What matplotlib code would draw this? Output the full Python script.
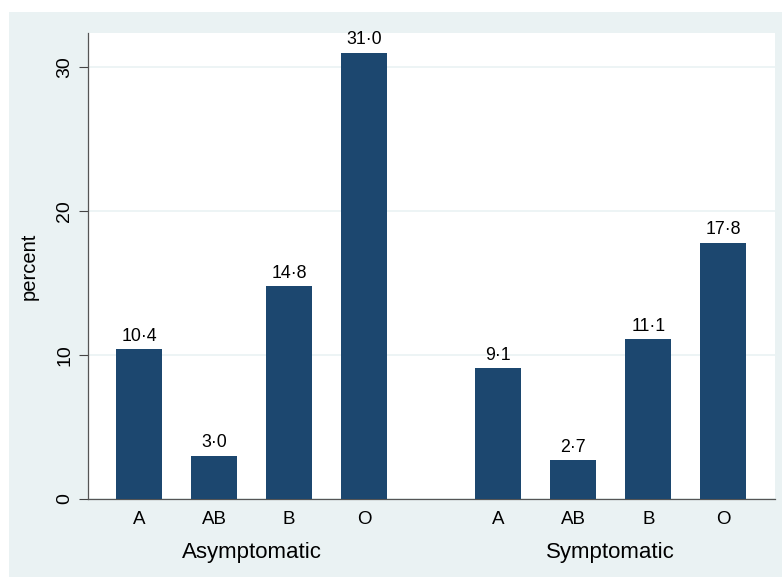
import matplotlib
matplotlib.use("Agg")
import matplotlib.pyplot as plt
from matplotlib.patches import Rectangle
import numpy as np

# Data
groups = ["Asymptomatic", "Symptomatic"]
blood_types = ["A", "AB", "B", "O"]
asymptomatic = [10.4, 3.0, 14.8, 31.0]
symptomatic = [9.1, 2.7, 11.1, 17.8]

plt.rcParams['font.family'] = ['Liberation Sans', 'DejaVu Sans']

bg = "#eaf2f3"
bar_col = "#1c476f"

fig = plt.figure(figsize=(7.82, 5.77), dpi=100)
fig.patch.set_facecolor("white")
fig.add_artist(Rectangle((9 / 782, 0), 1, (577 - 12) / 577,
                         transform=fig.transFigure, facecolor=bg,
                         edgecolor="none", zorder=-10))

ax = fig.add_axes([88 / 782, 78 / 577, 687 / 782, 466 / 577])
ax.set_facecolor("white")

gap = 4.79
pos_asym = np.arange(len(blood_types))
pos_symp = pos_asym + gap
width = 0.613

for pos, vals in [(pos_asym, asymptomatic), (pos_symp, symptomatic)]:
    bars = ax.bar(pos, vals, width=width, color=bar_col, zorder=3)
    for b, v in zip(bars, vals):
        ax.annotate(f"{v:.1f}".replace(".", "\u00b7"),
                    (b.get_x() + b.get_width() / 2, v),
                    xytext=(0, 6), textcoords="offset points",
                    ha="center", va="baseline", fontsize=12.8)

ax.set_xlim(-0.68, 8.48)
ax.set_ylim(0, 32.36)
ax.set_yticks([0, 10, 20, 30])
ax.tick_params(axis="y", length=6.5, width=0.8, color="#444444",
               labelsize=14, pad=4)
for lab in ax.get_yticklabels():
    lab.set_rotation(90)
    lab.set_va("center")
ax.set_xticks(np.concatenate([pos_asym, pos_symp]))
ax.set_xticklabels(blood_types * 2, fontsize=13.5)
ax.tick_params(axis="x", length=0, pad=9)
ax.grid(axis="y", color=bg, linewidth=1.2, zorder=0)
ax.set_ylabel("percent", fontsize=14.5, labelpad=13)

for s in ["top", "right"]:
    ax.spines[s].set_visible(False)
for s in ["left", "bottom"]:
    ax.spines[s].set_color("#555555")
    ax.spines[s].set_linewidth(0.9)

trans = ax.get_xaxis_transform()
for g, pos in zip(groups, [pos_asym, pos_symp]):
    ax.text(pos.mean(), -0.127, g, transform=trans, ha="center",
            va="baseline", fontsize=16)

fig.savefig("out.png", dpi=100)
